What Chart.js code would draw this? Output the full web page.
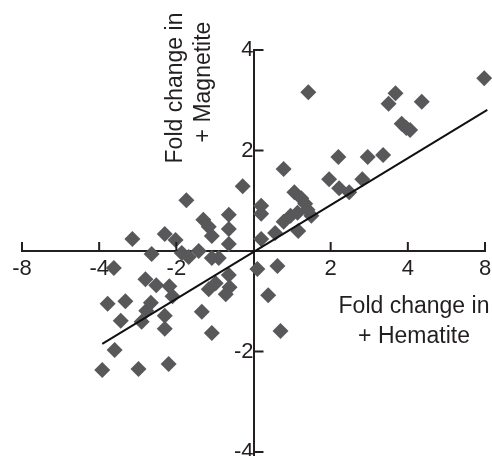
<!DOCTYPE html>
<html lang="en">
<head>
  <meta charset="utf-8" />
  <title>Fold change scatter</title>
  <script src="https://cdn.jsdelivr.net/npm/chart.js@4.4.1/dist/chart.umd.min.js"></script>
  <style>
    html, body { margin: 0; padding: 0; background: #fff; }
    #wrap { width: 492px; height: 456px; }
  </style>
</head>
<body>
  <div id="wrap"><canvas id="myChart" width="492" height="456"></canvas></div>
  <script>
    // x is on an even-spaced fold-change axis: positions -3..3 shown as -8..8
    const xTickPos = [-3, -2, -1, 0, 1, 2, 3];
    const xTickLabels = ['-8', '-4', '-2', '0', '2', '4', '8'];
    const yTickPos = [-4, -2, 0, 2, 4];
    const yTickLabels = ['-4', '-2', '0', '2', '4'];

    // genes: fold change (+ Hematite) vs fold change (+ Magnetite)
    const hematite = [
      2.99, 1.84, 1.75, 2.18, 1.92, 1.98, 2.03, 1.10, 1.48, 1.68,
      0.98, 1.11, 1.24, 1.41, 0.71, 0.39, 0.10, 0.10, 0.53, 0.62,
      0.67, 0.70, 0.48, 0.39, 0.57, 0.75, 0.58, 0.28, 0.10, 0.05,
      0.31, 0.19, 0.35,
      -1.57, -1.15, -1.01, -1.32, -0.87, -0.14, -0.65, -0.58, -0.54, -0.32,
      -0.32, -0.32, -0.93, -0.84, -0.71, -0.54, -0.45, -1.81, -1.40, -1.26,
      -1.09, -1.05, -0.58, -0.49, -0.32, -0.31, -0.36, -1.89, -1.66, -1.33,
      -1.39, -1.45, -1.72, -1.15, -1.15, -0.67, -0.54, -1.80, -1.96, -1.49,
      -1.10
    ];
    const magnetite = [
      3.44, 3.14, 2.93, 2.97, 2.53, 2.45, 2.41, 1.87, 1.87, 1.91,
      1.43, 1.25, 1.17, 1.43, 3.16, 1.63, 0.90, 0.74, 1.17, 1.05,
      0.94, 0.82, 0.70, 0.58, 0.76, 0.70, 0.40, 0.36, 0.24, -0.36,
      -0.30, -0.88, -1.59,
      0.24, 0.34, 0.22, -0.06, 1.01, 1.29, 0.62, 0.48, 0.30, 0.72,
      0.44, 0.14, -0.04, -0.12, 0.00, -0.14, -0.14, -0.34, -0.56, -0.68,
      -0.70, -0.90, -0.76, -0.64, -0.48, -0.72, -0.86, -1.05, -1.00, -1.03,
      -1.19, -1.41, -1.39, -1.29, -1.55, -1.21, -1.63, -1.97, -2.37, -2.35,
      -2.25
    ];

    // regression line end points
    const fitX = [-1.96, 3.03];
    const fitY = [-1.85, 2.81];

    const fontFamily = '"Liberation Sans", Arial, Helvetica, sans-serif';
    const inkColor = '#231f20';

    // centre axes should not eat into the plot area
    function noSpace(axis) {
      if (axis.isHorizontal()) axis.height = 0; else axis.width = 0;
      axis.paddingLeft = axis.paddingRight = axis.paddingTop = axis.paddingBottom = 0;
    }

    // small tick marks on the inner side of the axes, plus the axis titles
    const axisDecor = {
      id: 'axisDecor',
      afterDraw(chart) {
        const ctx = chart.ctx;
        const xs = chart.scales.x;
        const ys = chart.scales.y;
        const x0 = xs.getPixelForValue(0);
        const y0 = ys.getPixelForValue(0);
        ctx.save();
        ctx.strokeStyle = inkColor;
        ctx.lineWidth = 2;
        ctx.beginPath();
        xTickPos.forEach(v => {
          if (v === 0) return;
          const px = xs.getPixelForValue(v);
          ctx.moveTo(px, y0);
          ctx.lineTo(px, y0 - 9);
        });
        yTickPos.forEach(v => {
          if (v === 0) return;
          const py = ys.getPixelForValue(v);
          ctx.moveTo(x0, py);
          ctx.lineTo(x0 + 10, py);
        });
        ctx.stroke();

        ctx.fillStyle = inkColor;
        ctx.font = '23px ' + fontFamily;
        ctx.textAlign = 'center';
        ctx.textBaseline = 'alphabetic';
        ctx.fillText('Fold change in', 414, 313);
        ctx.fillText('+ Hematite', 414, 343);

        ctx.save();
        ctx.translate(182, 88);
        ctx.rotate(-Math.PI / 2);
        ctx.fillText('Fold change in', 0, 0);
        ctx.restore();
        ctx.translate(210, 82);
        ctx.rotate(-Math.PI / 2);
        ctx.fillText('+ Magnetite', 0, 0);
        ctx.restore();
      }
    };

    const ctx = document.getElementById('myChart').getContext('2d');
    const myChart = new Chart(ctx, {
      type: 'scatter',
      data: {
        datasets: [{
          type: 'line',
          label: 'fit',
          data: fitX.map((x, i) => ({ x: x, y: fitY[i] })),
          borderColor: '#111',
          borderWidth: 2,
          pointRadius: 0,
          fill: false,
          clip: false
        }, {
          label: 'genes',
          data: hematite.map((x, i) => ({ x: x, y: magnetite[i] })),
          pointStyle: 'rectRot',
          pointRadius: 8,
          backgroundColor: '#58585a',
          borderColor: '#58585a',
          borderWidth: 0,
          clip: false
        }]
      },
      options: {
        responsive: false,
        animation: false,
        layout: { autoPadding: false, padding: { left: 22, right: 7, top: 50, bottom: 0 } },
        plugins: {
          legend: { display: false },
          tooltip: { enabled: false }
        },
        scales: {
          x: {
            type: 'linear',
            position: { y: 0 },
            min: -3,
            max: 3,
            afterBuildTicks: axis => { axis.ticks = xTickPos.map(v => ({ value: v })); },
            afterFit: noSpace,
            grid: { drawOnChartArea: false, drawTicks: false },
            border: { display: true, color: inkColor, width: 2 },
            ticks: {
              autoSkip: false,
              maxRotation: 0,
              padding: 5,
              color: inkColor,
              font: { family: fontFamily, size: 22 },
              callback: v => (v === 0 ? '' : xTickLabels[xTickPos.indexOf(v)])
            }
          },
          y: {
            type: 'linear',
            position: { x: 0 },
            min: -4.08,
            max: 4,
            afterBuildTicks: axis => { axis.ticks = yTickPos.map(v => ({ value: v })); },
            afterFit: noSpace,
            grid: { drawOnChartArea: false, drawTicks: false },
            border: { display: true, color: inkColor, width: 2 },
            ticks: {
              autoSkip: false,
              padding: 12,
              color: inkColor,
              font: { family: fontFamily, size: 22 },
              callback: v => (v === 0 ? '' : yTickLabels[yTickPos.indexOf(v)])
            }
          }
        }
      },
      plugins: [axisDecor]
    });
  </script>
</body>
</html>
